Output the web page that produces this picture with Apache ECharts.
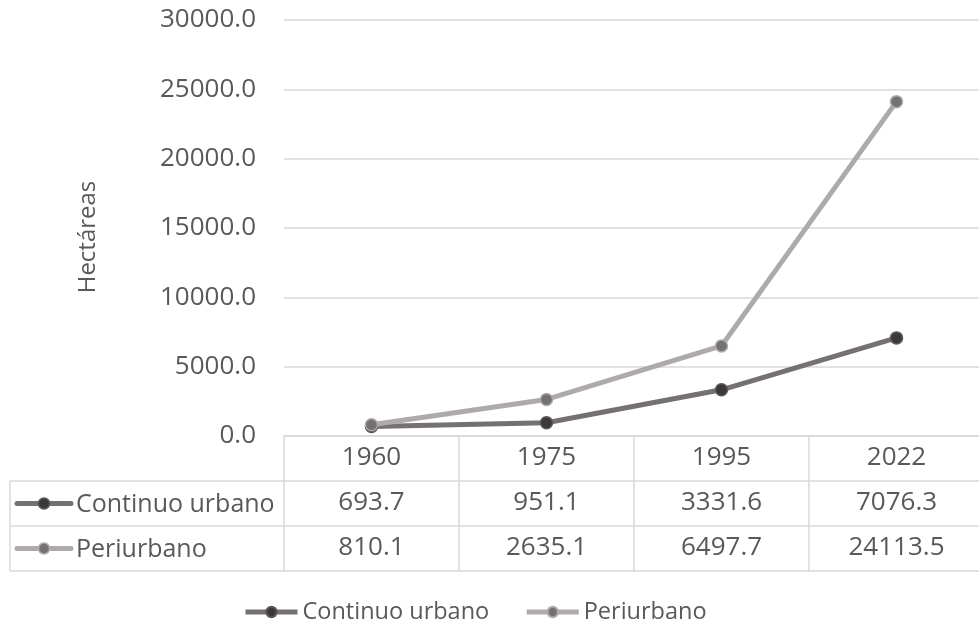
<!DOCTYPE html>
<html>
<head>
<meta charset="utf-8">
<script src="https://cdn.jsdelivr.net/npm/echarts@6/dist/echarts.min.js"></script>
<style>
  html, body { margin: 0; padding: 0; background: #fff; }
  #chart { width: 979px; height: 626px; }
</style>
</head>
<body>
<div id="chart"></div>
<script>
// Superficie urbana (hectáreas) por año
const years = ['1960', '1975', '1995', '2022'];
const seriesNames = ['Continuo urbano', 'Periurbano'];
const continuoUrbano = [693.7, 951.1, 3331.6, 7076.3];
const periurbano = [810.1, 2635.1, 6497.7, 24113.5];
const yMax = 30000;
const yStep = 5000;
const yAxisTitle = 'Hectáreas';

const FONT = '"Open Sans", "Noto Sans", sans-serif';
const TEXT = '#595959';
const RULE = '#d9d9d9';
const NUM_SIZE = 26;
const WORD_SIZE = 25;

const styles = [
  { line: '#767171', fill: '#3b3838', border: '#5a5757' },
  { line: '#aeaaaa', fill: '#767171', border: '#aeaaaa' }
];
const values = [continuoUrbano, periurbano];

// layout of the plot and data table
const gridLeft = 284, gridRight = -5, gridTop = 20, gridBottom = 190;
const rowH = 45;
const tableLeft = 10;
const axisY = 626 - gridBottom;

const chart = echarts.init(document.getElementById('chart'), null, { renderer: 'canvas' });

// one bottom x axis per table row: its line is the row's top border, its labels the cells
const xAxes = [
  {
    type: 'category', data: years, gridIndex: 0, position: 'bottom', offset: 0,
    boundaryGap: true,
    axisLine: { show: true, lineStyle: { color: RULE, width: 1.5 } },
    axisTick: { show: true, length: rowH * 3, lineStyle: { color: RULE, width: 1.5 } },
    axisLabel: { margin: 9, fontSize: NUM_SIZE, color: TEXT, fontFamily: FONT }
  }
];
values.forEach((vals, i) => {
  xAxes.push({
    type: 'category', data: years, gridIndex: 0, position: 'bottom', offset: rowH * (i + 1),
    axisLine: { show: true, lineStyle: { color: RULE, width: 1.5 } },
    axisTick: { show: false },
    axisLabel: {
      margin: 9, fontSize: NUM_SIZE, color: TEXT, fontFamily: FONT,
      formatter: (v, idx) => vals[idx].toFixed(1)
    }
  });
});
xAxes.push({
  type: 'category', data: years, gridIndex: 0, position: 'bottom', offset: rowH * 3,
  axisLine: { show: true, lineStyle: { color: RULE, width: 1.5 } },
  axisTick: { show: false }, axisLabel: { show: false }
});

// left column of the table: series keys and row borders
const graphics = [];
for (let r = 1; r <= 3; r++) {
  graphics.push({
    type: 'line', silent: true,
    shape: { x1: tableLeft, y1: axisY + rowH * r, x2: gridLeft, y2: axisY + rowH * r },
    style: { stroke: RULE, lineWidth: 1.5 }
  });
}
graphics.push({
  type: 'line', silent: true,
  shape: { x1: tableLeft, y1: axisY + rowH, x2: tableLeft, y2: axisY + rowH * 3 },
  style: { stroke: RULE, lineWidth: 1.5 }
});
seriesNames.forEach((name, i) => {
  const cy = axisY + rowH * (i + 1) + rowH / 2;
  const s = styles[i];
  graphics.push({
    type: 'group', silent: true,
    children: [
      { type: 'line', shape: { x1: 17, y1: cy, x2: 71, y2: cy }, style: { stroke: s.line, lineWidth: 5, lineCap: 'round' } },
      { type: 'circle', shape: { cx: 44, cy: cy, r: 5.5 }, style: { fill: s.fill, stroke: s.border, lineWidth: 1.5 } },
      { type: 'text', x: 76, y: cy + 1, style: { text: name, font: WORD_SIZE + 'px ' + FONT, fill: TEXT, verticalAlign: 'middle', align: 'left' } }
    ]
  });
});
// value axis title
graphics.push({
  type: 'text', silent: true, x: 88, y: 237, rotation: Math.PI / 2,
  style: { text: yAxisTitle, font: '24px ' + FONT, fill: TEXT, align: 'center', verticalAlign: 'middle' }
});

chart.setOption({
  backgroundColor: '#ffffff',
  animation: false,
  textStyle: { fontFamily: FONT },
  grid: {
    left: gridLeft, right: gridRight, top: gridTop, bottom: gridBottom,
    containLabel: false, outerBoundsMode: 'none'
  },
  legend: {
    data: seriesNames,
    top: 595,
    left: 238,
    itemWidth: 52,
    itemHeight: 13,
    itemGap: 35,
    lineStyle: { width: 5 },
    textStyle: { fontSize: 23.5, color: TEXT, fontFamily: FONT }
  },
  xAxis: xAxes,
  yAxis: {
    type: 'value', min: 0, max: yMax, interval: yStep,
    axisLine: { show: false }, axisTick: { show: false },
    axisLabel: { fontSize: NUM_SIZE, color: TEXT, fontFamily: FONT, margin: 28, formatter: v => v.toFixed(1) },
    splitLine: { lineStyle: { color: RULE, width: 1.5 } }
  },
  series: seriesNames.map((name, i) => ({
    name: name,
    type: 'line',
    xAxisIndex: 0,
    data: values[i],
    symbol: 'circle',
    symbolSize: 12,
    lineStyle: { color: styles[i].line, width: 5 },
    itemStyle: { color: styles[i].fill, borderColor: styles[i].border, borderWidth: 1.5 },
    z: 3 + i
  })),
  graphic: graphics
});
</script>
</body>
</html>
